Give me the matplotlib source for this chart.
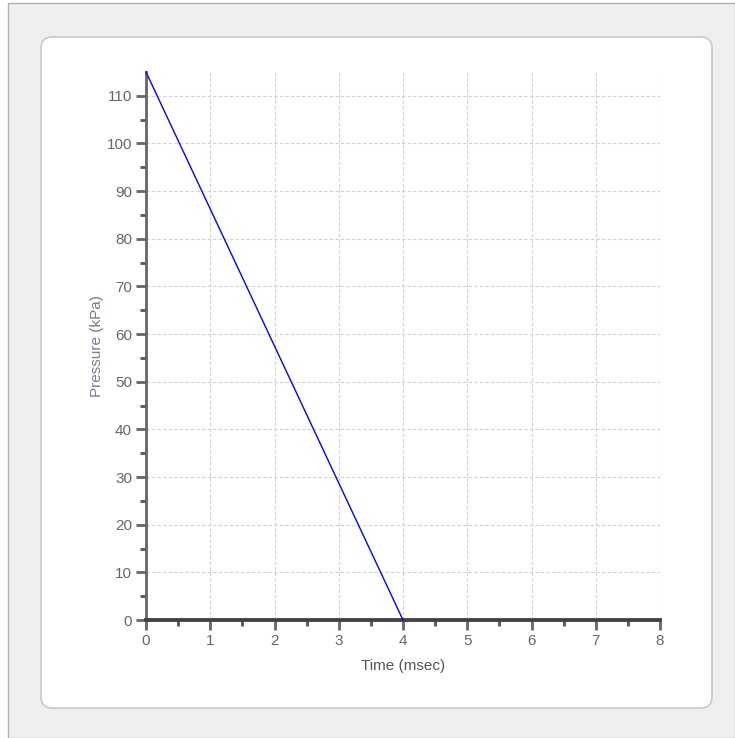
import matplotlib
matplotlib.use("Agg")
import matplotlib.pyplot as plt
from matplotlib.patches import FancyBboxPatch, Rectangle

plt.rcParams["font.family"] = ["Liberation Sans", "DejaVu Sans"]

time_ms = [0, 4]
pressure_kpa = [115, 0]
x_ticks = [0, 1, 2, 3, 4, 5, 6, 7, 8]
y_ticks = [0, 10, 20, 30, 40, 50, 60, 70, 80, 90, 100, 110]

W, H = 735, 738
fig = plt.figure(figsize=(W / 100, H / 100), dpi=100)
fig.patch.set_facecolor("white")

def fx(px):
    return px / W

def fy(py):
    return 1 - py / H

# outer gray background
fig.patches.append(Rectangle((fx(8), 0), 1 - fx(8), fy(3), transform=fig.transFigure,
                             facecolor="#efefef", edgecolor="#b0b0b0", linewidth=1, zorder=-2))
# white rounded panel
fig.patches.append(FancyBboxPatch((fx(41), fy(708)), fx(712) - fx(41), fy(37) - fy(708),
                                  boxstyle="round,pad=0,rounding_size=0.015",
                                  transform=fig.transFigure, facecolor="white",
                                  edgecolor="#c8c8c8", linewidth=1.2, zorder=-1))

ax = fig.add_axes([fx(146), fy(620), fx(660) - fx(146), fy(72) - fy(620)])
ax.set_zorder(5)
ax.set_facecolor("none")
ax.plot(time_ms, pressure_kpa, color="#0000ff", linewidth=1, zorder=3, clip_on=False)

ax.set_xlim(0, 8)
ax.set_ylim(0, 115)
ax.set_xticks(x_ticks)
ax.set_yticks(y_ticks)
ax.set_xticks([i + 0.5 for i in range(8)], minor=True)
ax.set_yticks([i * 10 + 5 for i in range(11)], minor=True)

ax.grid(True, which="major", color="#d0d0d0", linestyle=(0, (3, 2)), linewidth=0.8)
for s in ["top", "right"]:
    ax.spines[s].set_visible(False)
ax.spines["left"].set_color("#666666")
ax.spines["left"].set_linewidth(2)
ax.spines["bottom"].set_color("#444444")
ax.spines["bottom"].set_linewidth(2.8)

ax.tick_params(axis="both", which="major", length=7, width=2, color="#666666",
               labelcolor="#666666", labelsize=11, pad=3)
ax.tick_params(axis="both", which="minor", length=4, width=2, color="#555555")

ax.set_xlabel("Time (msec)", color="#555555", fontsize=11, labelpad=8)
ax.set_ylabel("Pressure (kPa)", color="#7a7a90", fontsize=11, labelpad=2)

fig.savefig("out.png", dpi=100)
